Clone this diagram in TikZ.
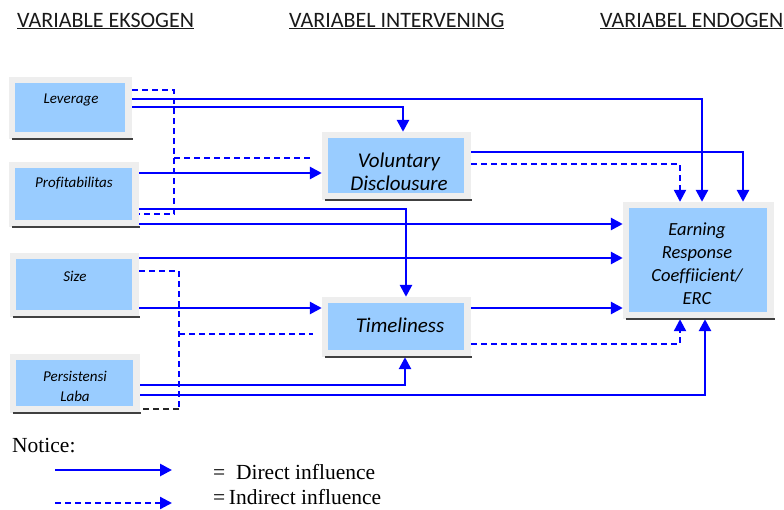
\documentclass[tikz,border=0pt]{standalone}
\usepackage{fontspec}
\setmainfont{Carlito}[Ligatures=NoCommon]
\newfontfamily\legfont{Liberation Serif}
\usetikzlibrary{arrows.meta}
\definecolor{boxblue}{HTML}{99CCFF}
\definecolor{framegray}{HTML}{EEEEEE}
\definecolor{arrblue}{HTML}{0000FF}
\definecolor{hdrgray}{HTML}{1A1A1A}
\tikzset{
  varbox/.style={fill=framegray, inner sep=0pt,
    path picture={\fill[boxblue] ([shift={(6pt,-6pt)}]path picture bounding box.north west) rectangle ([shift={(-7pt,7pt)}]path picture bounding box.south east);}},
  shadowln/.style={draw=black!75, line width=1.8pt},
  lbl/.style={font=\itshape\fontsize{15}{20}\selectfont, align=center, inner sep=0pt, text=black},
  biglbl/.style={font=\itshape\fontsize{21}{23}\selectfont, align=center, inner sep=0pt, text=black},
  erclbl/.style={font=\itshape\fontsize{18.5}{23}\selectfont, align=center, inner sep=0pt, text=black},
  hdr/.style={font=\fontsize{22}{24}\selectfont, text=hdrgray, inner sep=0pt, anchor=west},
  leg/.style={font=\legfont\fontsize{21.5}{24}\selectfont, inner sep=0pt, anchor=west},
  dir/.style={draw=arrblue, line width=2.7pt, -{Triangle[length=12pt,width=12pt]}},
  ind/.style={draw=arrblue, line width=2.3pt, dash pattern=on 6pt off 4pt},
  inda/.style={ind, -{Triangle[length=12pt,width=12pt]}},
  inddark/.style={draw=black!85, line width=2.3pt, dash pattern=on 6pt off 4pt},
}
\begin{document}
\begin{tikzpicture}[x=1pt,y=-1pt]
\useasboundingbox (0,0) rectangle (784,509);

% headers
\node[hdr] (h1) at (17,21) {\underline{VARIABLE EKSOGEN}};
\node[hdr] (h2) at (289,21) {\underline{VARIABEL INTERVENING}};
\node[hdr] (h3) at (600,21) {\underline{VARIABEL ENDOGEN}};

% boxes
\node[varbox, minimum width=123pt, minimum height=62pt] (lev) at (70.5,108) {};
\node[varbox, minimum width=130pt, minimum height=65pt] (prof) at (74,194.5) {};
\node[varbox, minimum width=129pt, minimum height=64pt] (size) at (74.5,285) {};
\node[varbox, minimum width=130pt, minimum height=59pt] (pers) at (75,383.5) {};
\node[varbox, minimum width=149pt, minimum height=68pt] (vol) at (396.5,166) {};
\node[varbox, minimum width=149pt, minimum height=60pt] (tim) at (396.5,327) {};
\node[varbox, minimum width=151pt, minimum height=117pt] (erc) at (698.5,260.5) {};

\foreach \b in {lev,prof,size,pers,vol,tim,erc}{
  \draw[shadowln] ([xshift=3pt]\b.south west) -- ([xshift=1pt]\b.south east);
}

% labels
\node[lbl] (levt) at (71,100) {Leverage};
\node[lbl] (proft) at (74,183) {Profitabilitas};
\node[lbl] (sizet) at (75,276) {Size};
\node[lbl] (perst) at (75,386) {Persistensi\\Laba};
\node[biglbl] (volt) at (399,171.5) {Voluntary\\Disclousure};
\node[biglbl] (timt) at (400,325) {Timeliness};
\node[erclbl] (erct) at (697,263.5) {Earning\\Response\\Coeffiicient/\\ERC};

% junction coordinates
\coordinate (jA) at (174,214);
\coordinate (jB) at (179,409);

% indirect (dashed) connectors
\draw[ind] (lev.east |- 0,90) -| (jA) -- (prof.east |- jA);
\draw[ind] (jA |- 0,158) -- ([xshift=-9pt]vol.west |- 0,158);
\draw[ind] (size.east |- 0,271) -| (jB);
\draw[inddark] (jB) -- (pers.east |- jB);
\draw[ind] (jB |- 0,334) -- ([xshift=-9pt]tim.west |- 0,334);
\draw[inda] (vol.east |- 0,164) -| (680,0 |- erc.north);
\draw[inda] (tim.east |- 0,344) -| (680,0 |- erc.south);

% direct connectors
\draw[dir] (lev.east |- 0,99) -| (702,0 |- erc.north);
\draw[dir] (lev.east |- 0,107) -| (403,0 |- vol.north);
\draw[dir] (prof.east |- 0,173) -- (vol.west |- 0,173);
\draw[dir] (prof.east |- 0,209) -| (406,0 |- tim.north);
\draw[dir] (prof.east |- 0,224) -- (erc.west |- 0,224);
\draw[dir] (size.east |- 0,258) -- (erc.west |- 0,258);
\draw[dir] (size.east |- 0,308) -- (tim.west |- 0,308);
\draw[dir] (pers.east |- 0,385) -| (405,0 |- tim.south);
\draw[dir] (pers.east |- 0,395) -| (705,0 |- erc.south);
\draw[dir] (vol.east |- 0,152) -| (743,0 |- erc.north);
\draw[dir] (tim.east |- 0,308) -- (erc.west |- 0,308);

% legend
\node[leg] (notice) at (12,446) {Notice:};
\coordinate (la1) at (55,470);
\coordinate (la2) at (172,470);
\coordinate (lb1) at (55,503);
\coordinate (lb2) at (172,503);
\draw[dir] (la1) -- (la2);
\draw[inda] (lb1) -- (lb2);
\node[leg] (ldir) at (213,472) {=\ \ Direct influence};
\node[leg] (lind) at (213,497) {=\,Indirect influence};
\end{tikzpicture}
\end{document}
